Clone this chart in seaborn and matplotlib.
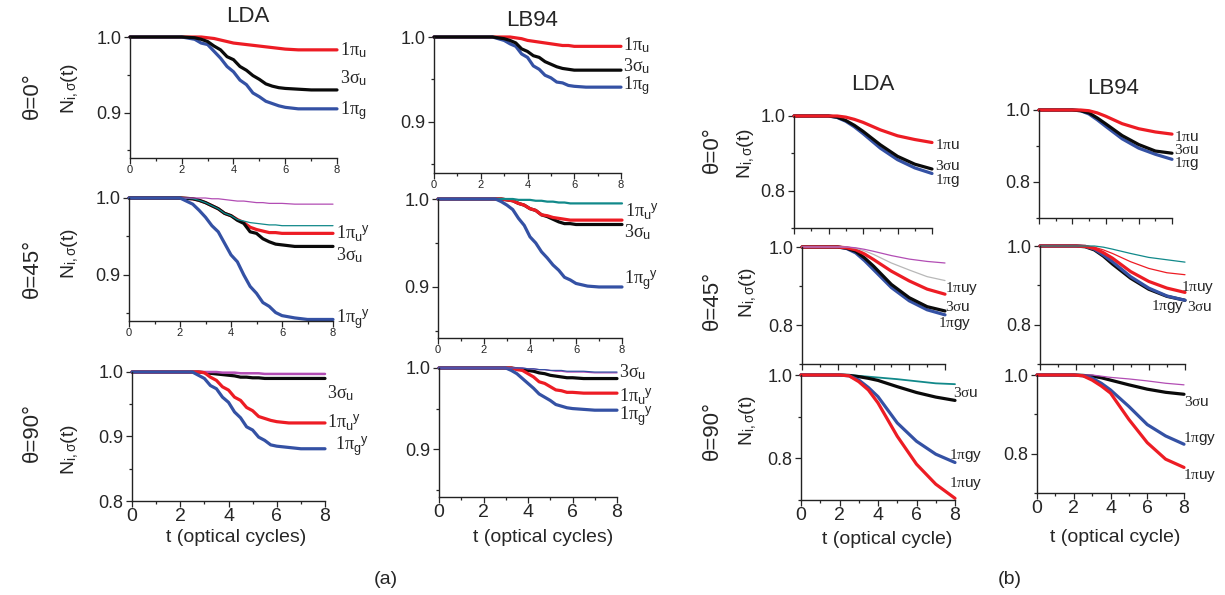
import matplotlib
matplotlib.use('Agg')
import matplotlib.pyplot as plt
import seaborn as sns
from matplotlib.ticker import MultipleLocator, FormatStrFormatter, NullFormatter

# time grids (optical cycles)
t_a = [0, 2, 2.5, 2.75, 3, 3.25, 3.5, 3.75, 4, 4.25, 4.5, 4.75, 5, 5.25, 5.5, 5.75, 6, 6.5, 7, 8]
t_b = [0, 2, 2.5, 3, 3.5, 4, 5, 6, 7, 8]

# (a) LDA, theta=0
a_lda0_pu = [1, 1, 1, 1, .999, .998, .996, .994, .992, .991, .990, .989, .988, .987, .986, .985, .984, .983, .983, .983]
a_lda0_su = [1, 1, .999, .997, .994, .988, .983, .974, .970, .961, .956, .949, .944, .938, .935, .933, .932, .931, .930, .930]
a_lda0_pg = [1, 1, .997, .992, .990, .981, .972, .961, .954, .943, .937, .926, .921, .915, .912, .909, .907, .905, .905, .905]
# (a) LB94, theta=0
a_lb0_pu = [1, 1, 1, 1, 1, 1, .999, .998, .996, .995, .994, .993, .992, .991, .990, .990, .989, .989, .989, .989]
a_lb0_su = [1, 1, 1, .999, .998, .996, .993, .986, .983, .978, .976, .971, .968, .965, .963, .962, .961, .961, .961, .961]
a_lb0_pg = [1, 1, 1, .998, .996, .992, .989, .980, .976, .966, .962, .955, .952, .947, .946, .943, .942, .941, .941, .941]
# (a) LDA, theta=45
a_lda45_mg = [1, 1, 1, 1, 1, .999, .999, .998, .997, .996, .996, .995, .994, .994, .993, .993, .993, .992, .992, .992]
a_lda45_tl = [1, 1, .999, .997, .994, .990, .986, .980, .977, .972, .970, .968, .967, .966, .965, .965, .964, .964, .964, .964]
a_lda45_pu = [1, 1, .999, .997, .994, .990, .986, .980, .977, .972, .968, .962, .959, .957, .955, .955, .954, .954, .954, .954]
a_lda45_su = [1, 1, .999, .997, .994, .990, .986, .980, .977, .971, .967, .956, .954, .947, .943, .940, .939, .937, .937, .937]
a_lda45_pg = [1, 1, .992, .984, .975, .964, .956, .941, .926, .917, .900, .885, .876, .864, .859, .851, .847, .844, .842, .842]
# (a) LB94, theta=45
a_lb45_tl = [1, 1, 1, 1, 1, 1, .999, .999, .999, .998, .998, .997, .997, .996, .996, .995, .995, .995, .995, .995]
a_lb45_pu = [1, 1, 1, 1, .999, .998, .995, .993, .989, .987, .982, .981, .979, .978, .977, .976, .976, .976, .976, .976]
a_lb45_su = [1, 1, 1, 1, .999, .998, .995, .993, .989, .987, .982, .980, .977, .974, .972, .972, .971, .971, .971, .971]
a_lb45_pg = [1, 1, 1, .997, .993, .988, .978, .970, .957, .950, .940, .933, .925, .919, .911, .908, .904, .901, .900, .900]
# (a) LDA, theta=90
a_lda90_mg = [1, 1, 1, 1, 1, 1, 1, .999, .999, .999, .998, .998, .998, .998, .997, .997, .997, .997, .997, .997]
a_lda90_su = [1, 1, 1, 1, .999, .998, .997, .996, .995, .994, .992, .992, .991, .991, .990, .990, .990, .990, .990, .990]
a_lda90_pu = [1, 1, 1, 1, .999, .992, .987, .977, .972, .961, .956, .945, .940, .931, .928, .925, .923, .921, .921, .921]
a_lda90_pg = [1, 1, 1, .995, .990, .979, .974, .961, .953, .938, .929, .915, .910, .899, .894, .887, .885, .883, .881, .881]
# (a) LB94, theta=90
a_lb90_bt = [1, 1, 1, 1, 1, 1, 1, 1, .999, .999, .998, .998, .997, .997, .997, .996, .996, .996, .995, .995]
a_lb90_mg = [1, 1, 1, 1, 1, 1, 1, 1, .999, .999, .998, .998, .997, .996, .996, .995, .995, .995, .994, .994]
a_lb90_su = [1, 1, 1, 1, 1, 1, .999, .998, .997, .996, .994, .993, .991, .990, .989, .988, .988, .987, .987, .987]
a_lb90_pu = [1, 1, 1, 1, 1, 1, .998, .997, .993, .989, .983, .981, .977, .973, .972, .970, .970, .969, .969, .969]
a_lb90_pg = [1, 1, 1, 1, 1, .997, .993, .987, .981, .975, .968, .964, .960, .955, .953, .951, .950, .949, .948, .948]

# (b) LDA / LB94, smooth curves
b_lda0_pu = [1, 1, 1, .997, .991, .983, .963, .947, .937, .929]
b_lda0_su = [1, 1, .997, .988, .975, .959, .923, .892, .871, .858]
b_lda0_pg = [1, 1, .996, .986, .971, .953, .914, .883, .861, .846]
b_lb0_pu = [1, 1, 1, .998, .992, .983, .962, .948, .939, .933]
b_lb0_su = [1, 1, .998, .992, .978, .962, .929, .904, .886, .880]
b_lb0_pg = [1, 1, .998, .989, .973, .955, .920, .894, .877, .863]
b_lda45_mg = [1, 1, 1, .998, .994, .989, .978, .969, .963, .959]
b_lda45_gr = [1, 1, 1, .997, .990, .981, .959, .941, .924, .914]
b_lda45_pu = [1, 1, .998, .993, .982, .968, .938, .913, .892, .879]
b_lda45_su = [1, 1, .997, .989, .972, .951, .904, .870, .847, .836]
b_lda45_pg = [1, 1, .996, .985, .965, .942, .896, .862, .839, .826]
b_lb45_tl = [1, 1, 1, 1, .997, .992, .981, .971, .965, .959]
b_lb45_px = [1, 1, 1, .997, .990, .981, .960, .943, .932, .927]
b_lb45_pu = [1, 1, .999, .994, .983, .969, .935, .910, .893, .882]
b_lb45_su = [1, 1, .998, .990, .974, .954, .918, .890, .872, .862]
b_lb45_pg = [1, 1, .999, .992, .977, .960, .922, .893, .873, .862]
b_lda90_tl = [1, 1, 1, .998, .996, .994, .990, .985, .980, .978]
b_lda90_su = [1, 1, .999, .996, .992, .987, .972, .958, .947, .939]
b_lda90_pg = [1, 1, .998, .988, .970, .948, .885, .841, .810, .790]
b_lda90_pu = [1, 1, .998, .984, .964, .933, .853, .786, .738, .704]
b_lb90_mg = [1, 1, 1, 1, .997, .994, .990, .985, .979, .975]
b_lb90_su = [1, 1, .999, .997, .993, .987, .975, .964, .956, .951]
b_lb90_pg = [1, 1, .998, .992, .979, .962, .920, .874, .845, .824]
b_lb90_pu = [1, 1, .998, .987, .972, .954, .887, .828, .786, .765]

labels_a = {'pu': r'$\mathrm{1π}_{\mathsf{u}}$', 'su': r'$\mathrm{3σ}_{\mathsf{u}}$',
            'pg': r'$\mathrm{1π}_{\mathsf{g}}$', 'puy': r'$\mathrm{1π}_{\mathsf{u}}{}^{\mathsf{y}}$',
            'pgy': r'$\mathrm{1π}_{\mathsf{g}}{}^{\mathsf{y}}$'}
labels_b = {'pu': r'$\mathrm{1π}\mathsf{u}$', 'su': r'$\mathrm{3σ}\mathsf{u}$',
            'pg': r'$\mathrm{1π}\mathsf{g}$', 'puy': r'$\mathrm{1π}\mathsf{uy}$',
            'pgy': r'$\mathrm{1π}\mathsf{gy}$'}

sns.set_style('ticks')
plt.rcParams['font.family'] = ['Liberation Sans', 'DejaVu Sans']
plt.rcParams['mathtext.fontset'] = 'custom'
plt.rcParams['mathtext.rm'] = 'Liberation Serif'
plt.rcParams['mathtext.it'] = 'Liberation Serif:italic'
plt.rcParams['mathtext.sf'] = 'Liberation Sans'

RED, BLK, BLU = '#ed1c24', '#0a0a0a', '#3451a4'
TEAL, MAG, GRY = '#11898a', '#b24db4', '#b8b8b8'
THICK, THIN = 2.3, 0.9

W, H = 1225, 595
fig = plt.figure(figsize=(W / 100, H / 100), dpi=100)


def add_ax(l, t, r, b):
    return fig.add_axes([l / W, 1 - b / H, (r - l) / W, (b - t) / H])


def panel(rect, t, curves, ylo, part, xlabels, labels):
    ax = add_ax(*rect)
    for vals, col, lw in curves:
        sns.lineplot(x=t, y=vals, ax=ax, color=col, linewidth=lw, clip_on=False, legend=False)
    ax.set_xlim(0, 8)
    ax.set_ylim(ylo, 1.0)
    sns.despine(ax=ax)
    for s in ['left', 'bottom']:
        ax.spines[s].set_linewidth(1.0)
        ax.spines[s].set_color('#222222')
    ax.xaxis.set_major_locator(MultipleLocator(2))
    ax.xaxis.set_minor_locator(MultipleLocator(1))
    if part == 'a':
        ax.yaxis.set_major_locator(MultipleLocator(0.1))
        ax.yaxis.set_minor_locator(MultipleLocator(0.05))
    else:
        ax.yaxis.set_major_locator(MultipleLocator(0.2))
        ax.yaxis.set_minor_locator(MultipleLocator(0.1))
    ax.yaxis.set_major_formatter(FormatStrFormatter('%.1f'))
    ax.tick_params(which='major', direction='out', length=4, width=0.9, pad=2, labelsize=13)
    ax.tick_params(which='minor', direction='out', length=2.5, width=0.9)
    if xlabels == 'small':
        ax.tick_params(axis='x', labelsize=8, pad=1)
    elif xlabels == 'none':
        ax.xaxis.set_major_formatter(NullFormatter())
    else:
        ax.tick_params(axis='x', labelsize=14, pad=1)
    ax.set_xlabel('')
    ax.set_ylabel('')
    lab = labels_a if part == 'a' else labels_b
    fs = 13 if part == 'a' else 11
    for key, y, x in labels:
        ax.text(x, y, lab[key], fontsize=fs, va='center', ha='left', clip_on=False)
    return ax


# (a)
panel((130, 37, 337, 158), t_a, [(a_lda0_pu, RED, THICK), (a_lda0_pg, BLU, THICK), (a_lda0_su, BLK, THICK)],
      0.84, 'a', 'small', [('pu', .982, 8.1), ('su', .945, 8.1), ('pg', .903, 8.1)])
panel((434, 37, 621, 173), t_a, [(a_lb0_pu, RED, THICK), (a_lb0_pg, BLU, THICK), (a_lb0_su, BLK, THICK)],
      0.84, 'a', 'small', [('pu', .990, 8.1), ('su', .966, 8.1), ('pg', .943, 8.1)])
panel((129, 198, 333, 321), t_a, [(a_lda45_pu, RED, THICK), (a_lda45_su, BLK, THICK), (a_lda45_tl, TEAL, THIN),
                                  (a_lda45_mg, MAG, THIN), (a_lda45_pg, BLU, THICK)],
      0.84, 'a', 'small', [('puy', .955, 8.1), ('su', .926, 8.1), ('pgy', .842, 8.1)])
panel((438, 199, 622, 338), t_a, [(a_lb45_su, BLK, THICK), (a_lb45_pu, RED, THICK), (a_lb45_tl, TEAL, 1.6),
                                  (a_lb45_pg, BLU, THICK)],
      0.842, 'a', 'small', [('puy', .986, 8.15), ('su', .962, 8.1), ('pgy', .908, 8.1)])
panel((132, 372, 325, 501), t_a, [(a_lda90_su, BLK, THICK), (a_lda90_mg, MAG, 1.8), (a_lda90_pu, RED, THICK),
                                  (a_lda90_pg, BLU, THICK)],
      0.8, 'a', 'large', [('su', .967, 8.1), ('puy', .923, 8.1), ('pgy', .884, 8.4)])
panel((439, 368, 617, 497), t_a, [(a_lb90_su, BLK, THICK), (a_lb90_pu, RED, THICK), (a_lb90_pg, BLU, THICK),
                                  (a_lb90_mg, MAG, THIN), (a_lb90_bt, BLU, THIN)],
      0.841, 'a', 'large', [('su', .995, 8.1), ('puy', .966, 8.1), ('pgy', .940, 8.1)])

# (b)
panel((794, 116, 932, 228), t_b, [(b_lda0_pg, BLU, THICK), (b_lda0_su, BLK, THICK), (b_lda0_pu, RED, THICK)],
      0.70, 'b', 'none', [('pu', .923, 8.15), ('su', .866, 8.15), ('pg', .826, 8.15)])
panel((1039, 110, 1172, 218), t_b, [(b_lb0_pg, BLU, THICK), (b_lb0_su, BLK, THICK), (b_lb0_pu, RED, THICK)],
      0.70, 'b', 'none', [('pu', .926, 8.1), ('su', .890, 8.1), ('pg', .850, 8.1)])
panel((802, 247, 945, 364), t_b, [(b_lda45_pg, BLU, THICK), (b_lda45_su, BLK, THICK), (b_lda45_pu, RED, THICK),
                                  (b_lda45_gr, GRY, THIN), (b_lda45_mg, MAG, THIN)],
      0.70, 'b', 'none', [('puy', .894, 8.0), ('su', .845, 8.0), ('pgy', .804, 7.6)])
panel((1040, 246, 1185, 364), t_b, [(b_lb45_su, BLK, THICK), (b_lb45_pg, BLU, THICK), (b_lb45_pu, RED, THICK),
                                    (b_lb45_px, RED, THIN), (b_lb45_tl, TEAL, THIN)],
      0.70, 'b', 'none', [('puy', .895, 7.8), ('su', .846, 8.1), ('pgy', .846, 6.1)])
panel((801, 375, 955, 500), t_b, [(b_lda90_tl, TEAL, 1.3), (b_lda90_su, BLK, THICK), (b_lda90_pg, BLU, THICK),
                                  (b_lda90_pu, RED, THICK)],
      0.70, 'b', 'large', [('su', .956, 7.9), ('pgy', .808, 7.7), ('puy', .740, 7.7)])
panel((1037, 375, 1184, 493), t_b, [(b_lb90_su, BLK, THICK), (b_lb90_mg, MAG, THIN), (b_lb90_pg, BLU, THICK),
                                    (b_lb90_pu, RED, THICK)],
      0.70, 'b', 'large', [('su', .931, 8.0), ('pgy', .838, 7.95), ('puy', .745, 7.95)])


def ftext(x, y, s, **kw):
    fig.text(x / W, 1 - y / H, s, ha='center', va='center', **kw)


ylab = r'N$_{\mathsf{i,σ}}$(t)'
for txt, x, y in [('LDA', 248, 16), ('LB94', 532, 20), ('LDA', 873, 85), ('LB94', 1113, 88)]:
    ftext(x, y, txt, fontsize=16)
for txt, x, y in [('θ=0°', 32, 96), ('θ=45°', 32, 268), ('θ=90°', 32, 433),
                  ('θ=0°', 712, 150), ('θ=45°', 712, 300), ('θ=90°', 712, 430)]:
    ftext(x, y, txt, fontsize=16, rotation=90)
for x, y in [(70, 88), (70, 253), (70, 449), (746, 153), (748, 292), (748, 420)]:
    ftext(x, y, ylab, fontsize=14, rotation=90)
ftext(236, 538, 't (optical cycles)', fontsize=14)
ftext(543, 537, 't (optical cycles)', fontsize=14)
ftext(887, 540, 't (optical cycle)', fontsize=14)
ftext(1115, 538, 't (optical cycle)', fontsize=14)
ftext(386, 580, '(a)', fontsize=14)
ftext(1010, 580, '(b)', fontsize=14)

fig.savefig('out.png', dpi=100)
